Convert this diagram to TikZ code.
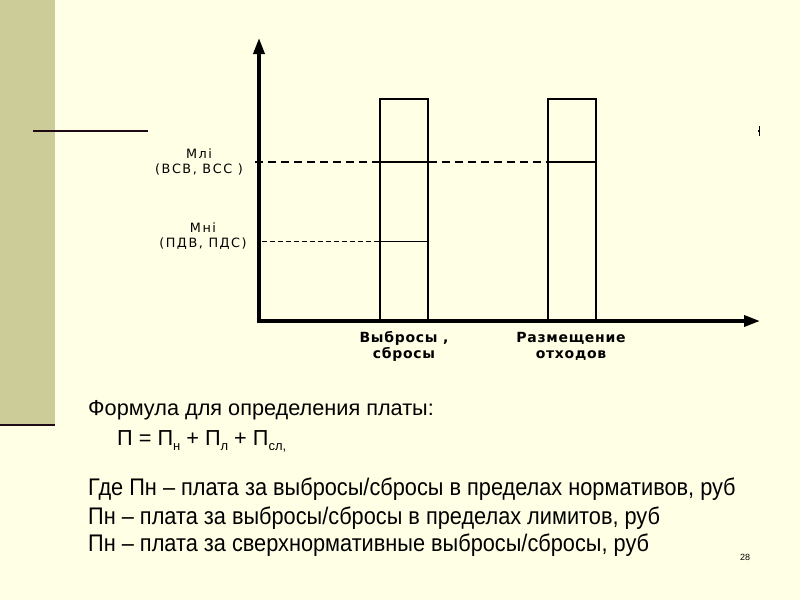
\documentclass[tikz,border=0pt]{standalone}
\usepackage{fontspec}
\setmainfont{Liberation Sans}
\newfontfamily\labfont[LetterSpace=12]{DejaVu Sans}
\newfontfamily\catfont[LetterSpace=5]{DejaVu Sans}
\usetikzlibrary{arrows.meta}
\definecolor{bgc}{RGB}{255,255,229}
\definecolor{barc}{RGB}{204,204,153}
\definecolor{darkl}{RGB}{30,10,20}
\tikzset{
  axis/.style={line width=3.5pt, draw=black, -{Triangle[length=16pt,width=11pt]}},
  barbox/.style={line width=1.6pt, draw=black},
  lab/.style={font=\labfont\fontsize{12.8}{14.5}\selectfont, align=center, inner sep=0pt},
  cat/.style={font=\catfont\bfseries\fontsize{14}{16}\selectfont, align=center, inner sep=0pt},
  txt/.style={anchor=base west, inner sep=0pt, font=\fontsize{21.7}{24}\selectfont}
}
\begin{document}
\begin{tikzpicture}[x=1pt,y=-1pt]
\useasboundingbox (0,0) rectangle (800,600);
\fill[bgc] (0,0) rectangle (800,600);
\fill[barc] (0,0) rectangle (55,425);
\draw[darkl, line width=2.5pt] (0,425) -- (55,425);
\draw[darkl, line width=2pt] (33,131) -- (148,131);
\draw[black, line width=0.6pt] (759,126) -- (759,136);
\fill[black] (758,130) rectangle (760,132);
% axes
\coordinate (Ytop) at (259,38);
\coordinate (Xend) at (760,321);
\draw[axis] (259,323) -- (Ytop);
\draw[axis] (257,321) -- (Xend);
% bars
\node[barbox, minimum width=48pt, minimum height=221pt, inner sep=0pt, anchor=south west] (b1) at (379,321) {};
\node[barbox, minimum width=48pt, minimum height=221pt, inner sep=0pt, anchor=south west] (b2) at (547,321) {};
% level lines
\coordinate (ml) at (255,162);
\coordinate (mn) at (262,241);
\draw[line width=1.6pt, dash pattern=on 8pt off 5pt] (ml) -- (b1.west |- ml);
\draw[line width=1.6pt] (b1.west |- ml) -- (b1.east |- ml);
\draw[line width=1.6pt, dash pattern=on 8pt off 5pt] (b1.east |- ml) -- (b2.west |- ml);
\draw[line width=1.6pt] (b2.west |- ml) -- (b2.east |- ml);
\draw[line width=0.8pt, dash pattern=on 5pt off 3pt] (mn) -- (b1.west |- mn);
\draw[line width=0.9pt] (b1.west |- mn) -- (b1.east |- mn);
% labels
\node[lab] (l1) at (199,162) {Млі\\(ВСВ, ВСС )};
\node[lab] (l2) at (203,236) {Мні\\(ПДВ, ПДС)};
\node[cat] (c1) at (404,346) {Выбросы ,\\сбросы};
\node[cat] (c2) at (571,346) {Размещение\\отходов};
% text
\node[txt] (t1) at (88,415) {Формула для определения платы:};
\node[txt] (t2) at (117,445) {П = П\raisebox{-0.25em}{\fontsize{13}{13}\selectfont н} + П\raisebox{-0.25em}{\fontsize{13}{13}\selectfont л} + П\raisebox{-0.25em}{\fontsize{13}{13}\selectfont сл,}};
\node[txt, font=\fontsize{24}{26}\selectfont] (t3) at (88,495) {\scalebox{0.906}[1]{Где Пн -- плата за выбросы/сбросы в пределах нормативов, руб}};
\node[txt, font=\fontsize{24}{26}\selectfont] (t4) at (88,524) {\scalebox{0.906}[1]{Пн -- плата за выбросы/сбросы в пределах лимитов, руб}};
\node[txt, font=\fontsize{24}{26}\selectfont] (t5) at (88,551) {\scalebox{0.906}[1]{Пн -- плата за сверхнормативные выбросы/сбросы, руб}};
\node[inner sep=0pt, font=\fontsize{9}{10}\selectfont] (pg) at (745,557) {28};
\end{tikzpicture}
\end{document}
